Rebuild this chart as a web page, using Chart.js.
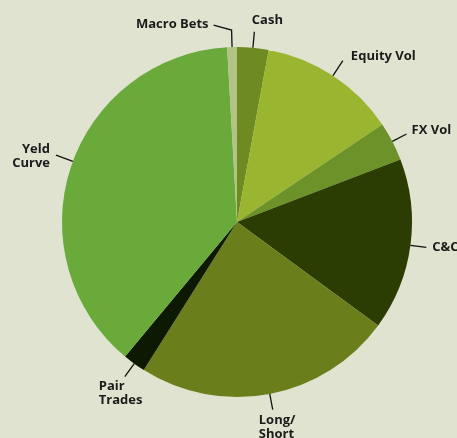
<!DOCTYPE html>
<html>
<head>
<meta charset="utf-8">
<script src="https://cdn.jsdelivr.net/npm/chart.js@4/dist/chart.umd.min.js"></script>
<style>
  html, body { margin: 0; padding: 0; background: #dfe3cf; }
  #wrap { width: 457px; height: 438px; }
</style>
</head>
<body>
<div id="wrap"><canvas id="c" width="457" height="438"></canvas></div>
<script>
// Data (percent of allocation), clockwise from 12 o'clock
const categories = ["Cash", "Equity Vol", "FX Vol", "C&C", ["Long/", "Short"], ["Pair", "Trades"], ["Yeld", "Curve"], "Macro Bets"];
const values = [2.9, 12.7, 3.6, 15.9, 23.9, 2.1, 38.1, 0.9];
const colors = ["#6e8b21", "#9ab630", "#6d9229", "#2c3d03", "#6a7f1c", "#0e1903", "#6aaa3b", "#b2c485"];

// Label styling: anchor position within slice, leader length, optional elbow, text offset, alignment
const anchorFrac = [0.5, 0.5, 0.5, 0.5, 0.5, 0.5, 0.515, 0.5];
const lineLen =    [16, 18, 16, 16, 16, 16, 18, 17];
const elbows =     [null, null, null, null, null, null, null, [-18, -5]];
const textOff =    [[13, -11], [8, -4], [5, -4], [6, 0], [-14, 10.5], [-26, 10], [-6, -6], [-5, -1]];
const textAlign =  ["center", "left", "left", "left", "left", "left", "right", "right"];
const lineGap = 14;

const leaderLabels = {
  id: 'leaderLabels',
  afterDatasetsDraw(chart) {
    const ctx = chart.ctx;
    const meta = chart.getDatasetMeta(0);
    ctx.save();
    ctx.strokeStyle = "#111";
    ctx.lineWidth = 1.3;
    ctx.fillStyle = "#1b1b1b";
    ctx.font = "bold 13px 'Open Sans'";
    ctx.textBaseline = "middle";
    meta.data.forEach((arc, i) => {
      const p = arc.getProps(['x', 'y', 'startAngle', 'endAngle', 'outerRadius'], true);
      const a = p.startAngle + (p.endAngle - p.startAngle) * anchorFrac[i];
      const c = Math.cos(a), s = Math.sin(a);
      const x0 = p.x + c * p.outerRadius, y0 = p.y + s * p.outerRadius;
      let x1 = p.x + c * (p.outerRadius + lineLen[i]);
      let y1 = p.y + s * (p.outerRadius + lineLen[i]);
      ctx.beginPath();
      ctx.moveTo(x0, y0);
      ctx.lineTo(x1, y1);
      if (elbows[i]) {
        x1 += elbows[i][0]; y1 += elbows[i][1];
        ctx.lineTo(x1, y1);
      }
      ctx.stroke();
      const lines = Array.isArray(categories[i]) ? categories[i] : [categories[i]];
      ctx.textAlign = textAlign[i];
      lines.forEach((t, k) => {
        ctx.fillText(t, x1 + textOff[i][0], y1 + textOff[i][1] + k * lineGap);
      });
    });
    ctx.restore();
  }
};

new Chart(document.getElementById('c'), {
  type: 'pie',
  data: {
    labels: categories.map(l => Array.isArray(l) ? l.join(' ') : l),
    datasets: [{
      data: values,
      backgroundColor: colors,
      borderWidth: 0
    }]
  },
  options: {
    responsive: false,
    animation: false,
    layout: { padding: { left: 62, right: 45, top: 47, bottom: 41 } },
    plugins: {
      legend: { display: false },
      tooltip: { enabled: false }
    }
  },
  plugins: [leaderLabels]
});
</script>
</body>
</html>
